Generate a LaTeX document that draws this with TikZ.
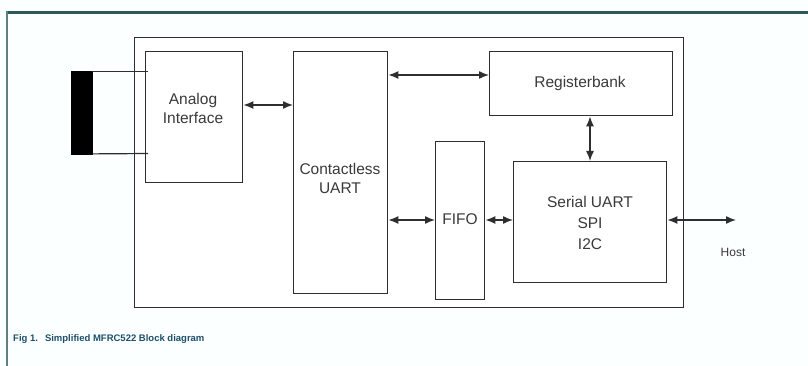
\documentclass[tikz,border=0pt]{standalone}
\usepackage{fontspec}
\setmainfont{Liberation Sans}
\usetikzlibrary{arrows.meta}
\definecolor{frameteal}{HTML}{2F5A5C}
\definecolor{frameleft}{HTML}{5F7F80}
\definecolor{linegrey}{HTML}{2E2E2E}
\definecolor{textgrey}{HTML}{3A3A3A}
\definecolor{captionblue}{HTML}{1E4F6A}
\definecolor{bgtint}{HTML}{FBFFFF}
\tikzset{
  blockbox/.style={draw=linegrey, line width=1.4pt, fill=white, anchor=north west, inner sep=0pt},
  lbl/.style={text=textgrey, font=\fontsize{15.5}{19}\selectfont, align=center, inner sep=0pt},
  dbl/.style={draw=linegrey, line width=1.4pt, {Latex[length=10pt,width=8pt]}-{Latex[length=10pt,width=8pt]}},
}
\begin{document}
\begin{tikzpicture}[x=1pt,y=-1pt]
\useasboundingbox (0,0) rectangle (808,366);
\fill[bgtint] (0,0) rectangle (808,366);
% figure frame
\draw[frameteal, line width=3pt] (6,12.5) -- (808,12.5);
\draw[frameleft, line width=1.4pt] (7,11) -- (7,366);
% main chip box
\node[blockbox, minimum width=549pt, minimum height=270pt] (chip) at (134,37) {};
% blocks
\node[blockbox, minimum width=97pt, minimum height=131pt] (ai) at (145,51) {};
\node[blockbox, minimum width=94pt, minimum height=242pt] (cu) at (293,51) {};
\node[blockbox, minimum width=183pt, minimum height=64pt] (rb) at (489,51) {};
\node[blockbox, minimum width=49pt, minimum height=158pt] (fifo) at (435,141) {};
\node[blockbox, minimum width=153pt, minimum height=121pt] (ser) at (513,161) {};
% antenna
\node[fill=black, draw=black, anchor=north west, minimum width=21pt, minimum height=83pt, inner sep=0pt] (ant) at (71,71) {};
\coordinate (antT) at (148,71.5);
\coordinate (antB) at (148,153.5);
\draw[linegrey, line width=1.2pt] (ant.north east) ++(0,0.5) -- (antT);
\draw[linegrey, line width=1.2pt] (ant.south east) ++(0,-0.5) -- (antB);
% labels
\node[lbl] (tai) at (193,108) {Analog\\Interface};
\node[lbl] (tcu) at (340,178) {Contactless\\UART};
\node[lbl] (trb) at (580,83) {Registerbank};
\node[lbl] (tfifo) at (460,219) {FIFO};
\node[lbl, align=center] (tser) at (590,223) {Serial UART\\[2pt]SPI\\[2pt]I2C};
\node[text=textgrey, font=\fontsize{12}{14}\selectfont, inner sep=0pt] (host) at (733,252) {Host};
% connectors
\draw[dbl] (ai.east |- 0,105) -- (cu.west |- 0,105);
\draw[dbl] (cu.east |- 0,75) -- (rb.west |- 0,75);
\draw[dbl] (rb.south -| 590,0) -- (ser.north -| 590,0);
\draw[dbl] (cu.east |- 0,220) -- (fifo.west |- 0,220);
\draw[dbl] (fifo.east |- 0,220) -- (ser.west |- 0,220);
\coordinate (hostpt) at (736,220);
\draw[dbl] (ser.east |- 0,220) -- (hostpt);
% caption
\node[anchor=west, text=captionblue, font=\bfseries\fontsize{9.5}{12}\selectfont, inner sep=0pt] (cap) at (13,339) {Fig 1.\hspace{7pt}Simplified MFRC522 Block diagram};
\end{tikzpicture}
\end{document}
